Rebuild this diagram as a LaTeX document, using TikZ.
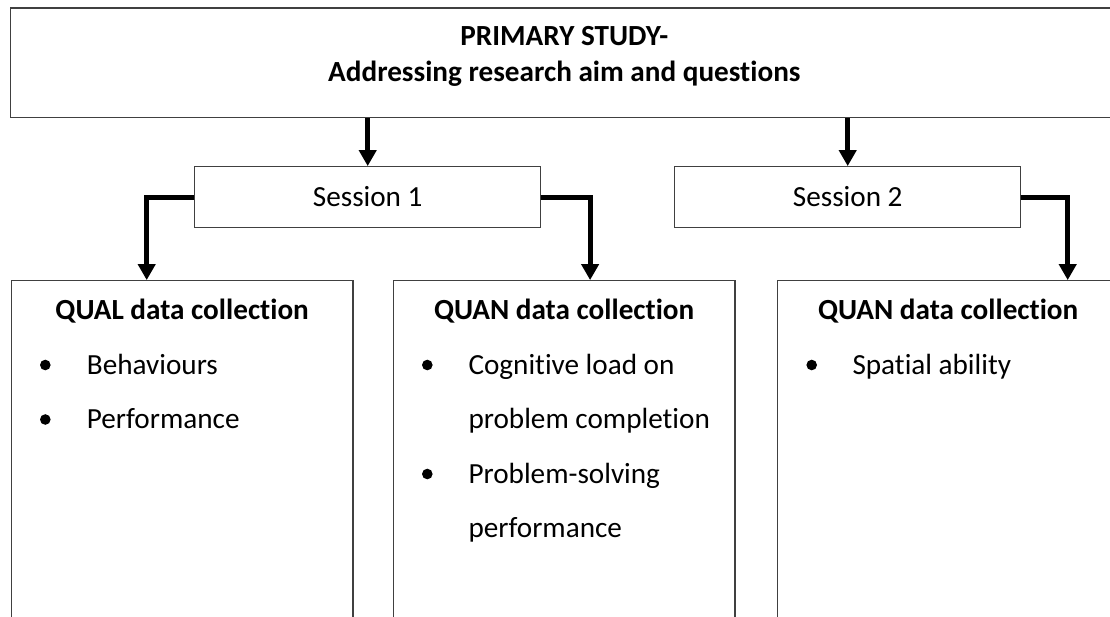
\documentclass[tikz,border=0pt]{standalone}
\usepackage{fontspec}
\setmainfont{Carlito}[Ligatures={NoCommon,NoContextual}]
\usetikzlibrary{arrows.meta}
\begin{document}
\begin{tikzpicture}[x=1pt,y=-1pt,
  frame/.style={draw=black!75, line width=1.2pt, inner sep=0pt, fill=white,
                font=\fontsize{29.2}{35}\selectfont},
  flow/.style={line width=5pt, -{Triangle[length=16pt,width=17pt]}},
  label/.style={font=\fontsize{29.2}{35}\selectfont, inner sep=0pt, anchor=base},
  head/.style={label, font=\fontsize{29.2}{35}\selectfont\bfseries},
  item/.style={label, anchor=base west},
  dot/.style={fill=black}
]
\useasboundingbox (0,0) rectangle (1110,616);
\clip (0,0) rectangle (1110,616);

% boxes
\node[frame, minimum width=1107.3pt, minimum height=109.7pt] (top)  at (564.35,62.85) {};
\node[frame, minimum width=346pt,   minimum height=60.6pt]  (s1)   at (367.7,197) {Session 1};
\node[frame, minimum width=346pt,   minimum height=60.6pt]  (s2)   at (847.7,197) {Session 2};
\node[frame, minimum width=341.7pt, minimum height=359.3pt] (qual) at (182.15,460.35) {};
\node[frame, minimum width=341.7pt, minimum height=359.3pt] (quan) at (564.15,460.35) {};
\node[frame, minimum width=341.7pt, minimum height=359.3pt] (spat) at (948.15,460.35) {};

% title of the study
\node[head] (t1) at (564.35,45.7) {PRIMARY STUDY-};
\node[head] (t2) at (564.35,81.7) {Addressing research aim and questions};

% connectors
\draw[flow] (s1.north |- top.south) -- (s1.north);
\draw[flow] (s2.north |- top.south) -- (s2.north);
\coordinate (qin) at ([xshift=136pt]qual.north west);
\coordinate (nin) at ([xshift=197.4pt]quan.north west);
\coordinate (sin) at ([xshift=291pt]spat.north west);
\draw[flow] (s1.west) -| (qin);
\draw[flow] (s1.east) -| (nin);
\draw[flow] (s2.east) -| (sin);

% headings of the lower boxes
\node[head] (h1) at (182.15,319) {QUAL data collection};
\node[head] (h2) at (564.15,319) {QUAN data collection};
\node[head] (h3) at (948.15,319) {QUAN data collection};

% QUAL items
\fill[dot] (45.3,365) circle (5.3);
\node[item] (a1) at (86.7,374) {Behaviours};
\fill[dot] (45.3,419.5) circle (5.3);
\node[item] (a2) at (86.7,428.5) {Performance};

% QUAN items (session 1)
\fill[dot] (427.3,365) circle (5.3);
\node[item] (b1) at (468.3,374) {Cognitive load on};
\node[item] (b2) at (468.3,428.5) {problem completion};
\fill[dot] (427.3,474) circle (5.3);
\node[item] (b3) at (468.3,483) {Problem-solving};
\node[item] (b4) at (468.3,537.5) {performance};

% QUAN items (session 2)
\fill[dot] (811.7,365) circle (5.3);
\node[item] (c1) at (852.3,374) {Spatial ability};
\end{tikzpicture}
\end{document}
